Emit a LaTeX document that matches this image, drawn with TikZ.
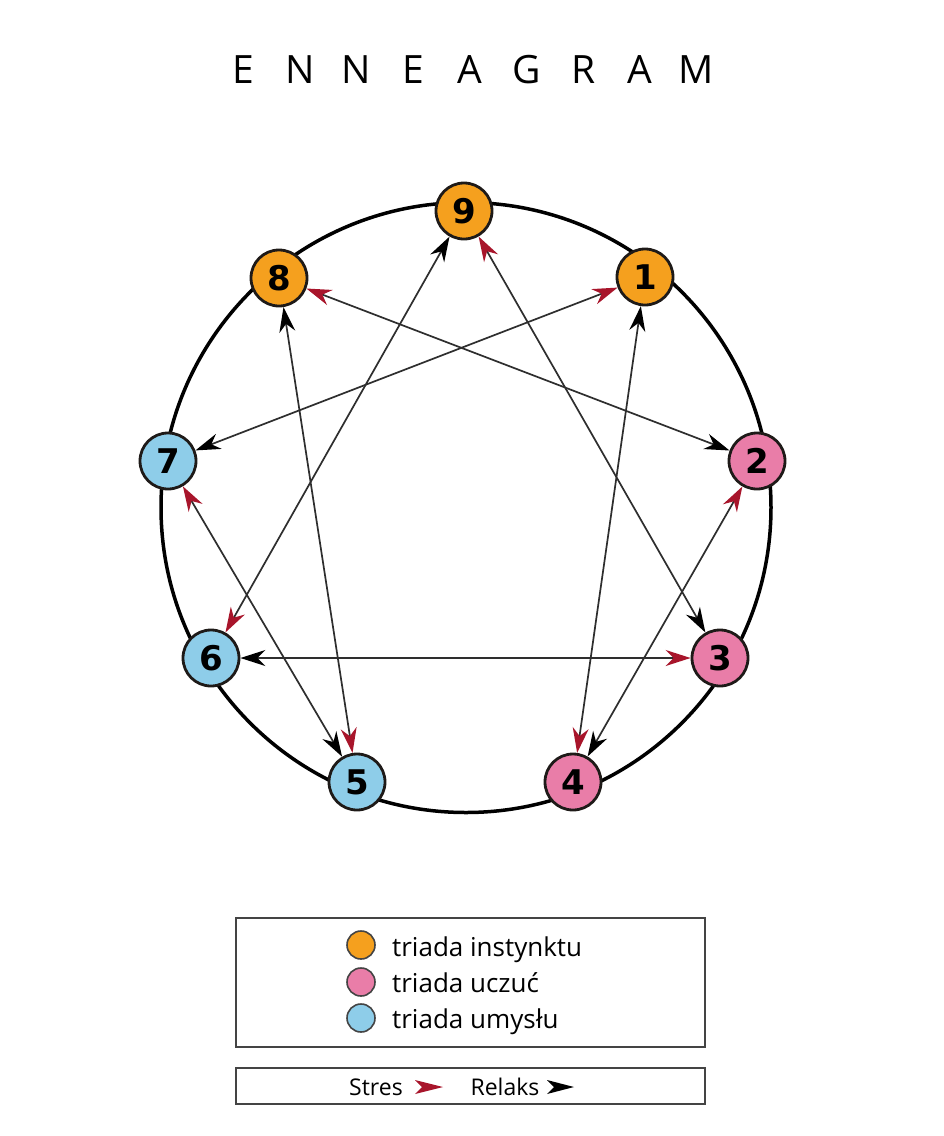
\documentclass[tikz,border=0pt]{standalone}
\usepackage{fontspec}
\setmainfont{Open Sans}
\newfontfamily\digitfont{DejaVu Sans}
\usetikzlibrary{arrows.meta}
\definecolor{orng}{HTML}{F5A01E}
\definecolor{pnk}{HTML}{E97DA8}
\definecolor{blu}{HTML}{8ECDE9}
\definecolor{bord}{HTML}{1E1A18}
\definecolor{linegray}{HTML}{2E2E2E}
\definecolor{stressred}{HTML}{A8152B}
\definecolor{boxgray}{HTML}{444444}
\tikzset{
  RT/.tip={Stealth[length=25pt,width=16pt,inset=8pt,color=black]},
  ST/.tip={Stealth[length=25pt,width=16pt,inset=8pt,color=stressred]},
  enode/.style={circle, draw=bord, line width=2.8pt, minimum size=56pt, inner sep=0pt,
    font=\digitfont\bfseries\fontsize{34}{34}\selectfont},
  conn/.style={draw=linegray, line width=1.7pt, RT-ST},
  legdot/.style={circle, draw=boxgray, line width=1.6pt, minimum size=28pt, inner sep=0pt},
  legtext/.style={anchor=base west, inner sep=0pt, font=\fontsize{26}{26}\selectfont},
  keytext/.style={anchor=base, inner sep=0pt, font=\fontsize{23}{23}\selectfont},
  legbox/.style={draw=boxgray, line width=2pt},
}
\newcommand{\tl}[1]{\makebox[56.6pt]{#1}}
\begin{document}
\begin{tikzpicture}[x=1pt,y=-1pt]
\useasboundingbox (0,0) rectangle (944,1136);
\fill[white] (0,0) rectangle (944,1136);
% title
\node[anchor=base, inner sep=0pt, font=\fontsize{39}{39}\selectfont] (title) at (469.9,83)
  {\tl{E}\tl{N}\tl{N}\tl{E}\tl{A}\tl{G}\tl{R}\tl{A}\tl{M}};
% big circle
\draw[line width=3.5pt] (466,507.5) circle[radius=305pt];
% nodes
\node[enode, fill=orng] (n9) at (464,211) {9};
\node[enode, fill=orng] (n8) at (279,278) {8};
\node[enode, fill=orng] (n1) at (645,277) {1};
\node[enode, fill=blu]  (n7) at (168,461) {7};
\node[enode, fill=pnk]  (n2) at (757,461) {2};
\node[enode, fill=blu]  (n6) at (211,658) {6};
\node[enode, fill=pnk]  (n3) at (720,658) {3};
\node[enode, fill=blu]  (n5) at (357,782) {5};
\node[enode, fill=pnk]  (n4) at (573,782) {4};
% connectors (stress direction a -> b : red tip at b, black tip at a)
\draw[conn] (n1) -- (n4);
\draw[conn] (n4) -- (n2);
\draw[conn] (n2) -- (n8);
\draw[conn] (n8) -- (n5);
\draw[conn] (n5) -- (n7);
\draw[conn] (n7) -- (n1);
\draw[conn] (n9) -- (n6);
\draw[conn] (n6) -- (n3);
\draw[conn] (n3) -- (n9);
% legend
\draw[legbox] (236,918) rectangle (705,1047);
\node[legdot, fill=orng] (d1) at (361,945) {};
\node[legdot, fill=pnk]  (d2) at (361,982) {};
\node[legdot, fill=blu]  (d3) at (361,1018) {};
\node[legtext] (t1) at (392,956) {triada instynktu};
\node[legtext] (t2) at (392,992) {triada uczuć};
\node[legtext] (t3) at (392,1028) {triada umysłu};
\draw[legbox] (236,1068) rectangle (705,1104);
\node[keytext] (ks) at (376,1095) {Stres};
\fill[stressred] (443,1087) -- (415,1080) -- (422,1087) -- (415,1094) -- cycle;
\node[keytext] (kr) at (505,1095) {Relaks};
\fill[black] (574,1087) -- (547,1080) -- (554,1087) -- (547,1094) -- cycle;
\end{tikzpicture}
\end{document}
